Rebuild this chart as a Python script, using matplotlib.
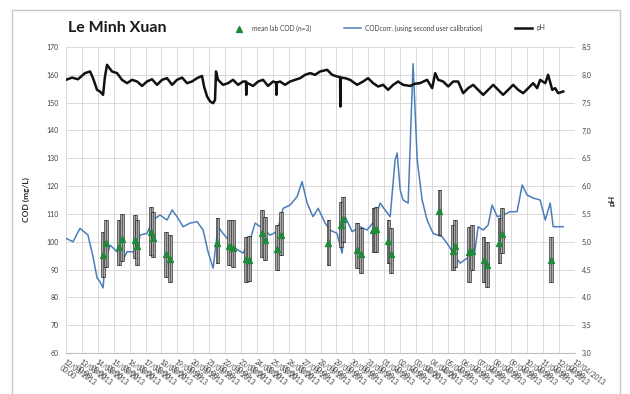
import matplotlib
matplotlib.use("Agg")
import matplotlib.pyplot as plt
from matplotlib.patches import Rectangle

plt.rcParams["font.family"] = ["Lato", "DejaVu Sans"]

# day labels along the x axis (one per grid line)
day_labels = [
    "12/03/2013", "13/03/2013", "14/03/2013", "15/03/2013", "16/03/2013",
    "17/03/2013", "18/03/2013", "19/03/2013", "20/03/2013", "21/03/2013",
    "22/03/2013", "23/03/2013", "24/03/2013", "25/03/2013", "26/03/2013",
    "27/03/2013", "28/03/2013", "29/03/2013", "30/03/2013", "31/03/2013",
    "01/04/2013", "02/04/2013", "03/04/2013", "04/04/2013", "05/04/2013",
    "06/04/2013", "07/04/2013", "08/04/2013", "09/04/2013", "10/04/2013",
    "11/04/2013", "12/04/2013", "13/04/2013",
]

# corrected COD from the probe (days since start, mg/L)
cod_t = [0.0, 0.44, 0.88, 1.38, 1.70, 1.95, 2.14, 2.33, 2.45, 2.77,
         3.21, 3.58, 3.84, 4.21, 4.47, 4.65, 5.09, 5.47, 5.91, 6.35,
         6.67, 6.98, 7.36, 7.80, 8.24, 8.62, 8.93, 9.25, 9.56, 9.87,
         10.31, 10.63, 11.13, 11.57, 11.89, 12.33, 12.83, 13.27, 13.65, 14.09,
         14.53, 14.84, 15.16, 15.53, 15.85, 16.29, 16.60, 17.04, 17.36, 17.55,
         17.99, 18.49, 18.93, 19.43, 19.75, 20.06, 20.38, 20.69, 20.82, 21.01,
         21.19, 21.51, 21.82, 22.08, 22.39, 22.70, 23.08, 23.65, 24.03, 24.47,
         24.78, 25.22, 25.60, 25.91, 26.23, 26.54, 26.79, 27.11, 27.48, 27.92,
         28.36, 28.68, 28.99, 29.37, 29.81, 30.13, 30.44, 30.63, 30.94, 31.26]
cod_val = [101.2, 100.0, 104.8, 102.4, 94.6, 87.0, 85.6, 83.4, 92.3, 98.8,
           96.4, 93.4, 96.4, 96.4, 95.7, 102.4, 103.0, 107.8, 109.6, 107.8,
           111.4, 109.0, 105.4, 106.7, 107.2, 104.2, 96.4, 90.5, 105.4, 103.0,
           100.0, 97.7, 95.9, 100.6, 106.7, 104.9, 102.4, 103.6, 112.0, 113.2,
           116.2, 121.6, 113.9, 109.0, 112.0, 106.7, 104.2, 103.0, 95.9, 109.0,
           103.6, 105.4, 104.2, 107.8, 113.9, 111.4, 109.0, 129.4, 131.9, 118.6,
           115.0, 113.9, 164.0, 129.4, 115.0, 107.8, 103.0, 101.8, 98.8, 94.6,
           92.3, 94.1, 92.3, 105.4, 104.2, 106.0, 113.2, 109.0, 109.6, 110.8,
           110.8, 120.4, 116.8, 115.7, 115.0, 107.8, 113.9, 105.4, 105.4, 105.4]

# lab COD samples: time, mean, max, min (mg/L)
lab_t = [2.31, 2.52, 3.33, 3.54, 4.34, 4.48, 5.33, 5.49, 6.27, 6.54,
         9.52, 10.27, 10.48, 11.32, 11.53, 12.31, 12.52, 13.29, 13.50, 16.50,
         17.28, 17.44, 18.32, 18.53, 19.33, 19.50, 20.27, 20.42, 23.48, 24.32,
         24.47, 25.36, 25.52, 26.25, 26.46, 27.25, 27.42, 30.48]
lab_mean = [95.2, 99.6, 98.2, 101.0, 100.6, 98.5, 103.4, 101.4, 95.5, 93.7,
            99.4, 98.5, 97.8, 93.7, 93.4, 103.0, 100.6, 97.4, 102.4, 99.4,
            106.0, 108.0, 97.2, 95.5, 104.2, 104.4, 100.2, 95.5, 111.2, 96.6,
            98.5, 96.3, 96.6, 93.4, 91.6, 99.6, 102.8, 93.4]
lab_max = [103.6, 107.8, 107.8, 109.9, 109.6, 107.8, 112.6, 110.8, 103.6, 102.4,
           108.4, 107.8, 107.8, 101.8, 102.0, 111.4, 109.0, 106.0, 110.8, 107.8,
           114.4, 116.2, 106.6, 104.8, 112.0, 112.6, 107.8, 104.8, 118.6, 106.0,
           107.8, 105.4, 106.0, 101.8, 100.0, 108.4, 112.0, 101.8]
lab_min = [87.4, 91.0, 91.6, 93.0, 94.0, 91.6, 95.2, 94.6, 87.4, 85.6,
           92.2, 91.6, 91.0, 85.6, 86.0, 94.6, 93.4, 89.8, 95.2, 91.6,
           98.2, 100.0, 90.4, 88.6, 96.4, 96.4, 92.2, 88.6, 102.4, 89.8,
           91.0, 85.6, 89.8, 85.6, 83.9, 92.2, 95.8, 85.6]

# pH probe reading
ph_t = [0.0, 0.38, 0.75, 1.19, 1.51, 1.70, 1.95, 2.14, 2.33, 2.45,
        2.58, 2.89, 3.21, 3.52, 3.84, 4.15, 4.47, 4.78, 5.09, 5.41,
        5.72, 6.04, 6.35, 6.67, 6.98, 7.30, 7.61, 7.92, 8.24, 8.55,
        8.68, 8.87, 9.06, 9.25, 9.37, 9.43, 9.56, 9.87, 10.19, 10.50,
        10.82, 11.13, 11.32, 11.33, 11.35, 11.76, 12.08, 12.39, 12.70, 13.02,
        13.21, 13.23, 13.25, 13.46, 13.77, 14.09, 14.40, 14.72, 15.03, 15.35,
        15.66, 15.97, 16.42, 16.73, 17.04, 17.23, 17.25, 17.27, 17.55, 17.86,
        18.30, 18.68, 18.99, 19.31, 19.62, 19.94, 20.25, 20.57, 20.88, 21.19,
        21.64, 21.95, 22.26, 22.70, 23.02, 23.21, 23.40, 23.71, 24.03, 24.34,
        24.65, 24.97, 25.28, 25.60, 25.91, 26.23, 26.54, 26.86, 27.17, 27.48,
        27.80, 28.11, 28.43, 28.74, 29.06, 29.37, 29.62, 29.81, 30.13, 30.31,
        30.57, 30.75, 30.94, 31.26]
ph_val = [7.91, 7.95, 7.92, 8.03, 8.06, 7.94, 7.73, 7.70, 7.64, 7.97,
          8.18, 8.06, 8.03, 7.91, 7.85, 7.91, 7.88, 7.80, 7.88, 7.92,
          7.82, 7.91, 7.94, 7.82, 7.91, 7.95, 7.85, 7.88, 7.94, 7.98,
          7.79, 7.61, 7.52, 7.49, 7.55, 8.06, 7.91, 7.82, 7.85, 7.91,
          7.82, 7.88, 7.88, 7.64, 7.86, 7.80, 7.88, 7.91, 7.80, 7.88,
          7.86, 7.64, 7.86, 7.88, 7.82, 7.88, 7.91, 7.94, 8.00, 8.03,
          8.00, 8.06, 8.09, 8.00, 7.97, 7.96, 7.43, 7.95, 7.94, 7.91,
          7.82, 7.88, 7.94, 7.85, 7.79, 7.82, 7.73, 7.82, 7.88, 7.82,
          7.80, 7.84, 7.85, 7.91, 7.76, 8.03, 7.91, 7.88, 7.79, 7.88,
          7.88, 7.67, 7.76, 7.82, 7.73, 7.64, 7.73, 7.82, 7.73, 7.64,
          7.73, 7.82, 7.73, 7.67, 7.76, 7.85, 7.76, 7.91, 7.85, 8.00,
          7.73, 7.76, 7.67, 7.70]

fig = plt.figure(figsize=(6.3, 3.94), dpi=100)
ax = fig.add_axes([66 / 630, 1 - 353 / 394, 509 / 630, 306 / 394])
ax2 = ax.twinx()

# thin frame around the whole chart area
fig.patches.append(Rectangle((12 / 630, -0.05), 608 / 630, 1.05 - 10 / 394,
                             transform=fig.transFigure, fill=False,
                             edgecolor="#c8c8c8", linewidth=1.0))

# lab samples: grey range bar with whisker caps, green triangle at the mean
heights = [hi - lo for hi, lo in zip(lab_max, lab_min)]
ax.bar(lab_t, heights, bottom=lab_min, width=0.24, color="#a8a8a8",
       edgecolor="#3a3a3a", linewidth=0.5, zorder=3)
ax.vlines(lab_t, lab_min, lab_max, color="#303030", linewidth=0.4, zorder=3)
ax.hlines(lab_max, [t - 0.07 for t in lab_t], [t + 0.07 for t in lab_t],
          color="#303030", linewidth=0.6, zorder=3)
ax.hlines(lab_min, [t - 0.07 for t in lab_t], [t + 0.07 for t in lab_t],
          color="#303030", linewidth=0.6, zorder=3)

cod_line, = ax.plot(cod_t, cod_val, color="#4a7ebb", linewidth=1.1, zorder=2,
                    label="CODcorr. (using second user calibration)")
lab_pts = ax.scatter(lab_t, lab_mean, marker="^", s=18, color="#1f8a3a",
                     zorder=4, label="mean lab COD (n=3)")
ph_line, = ax2.plot(ph_t, ph_val, color="#111111", linewidth=1.8, label="pH")

ax.set_xlim(0, len(day_labels) - 1)
ax.set_ylim(60, 170)
ax.set_yticks(range(60, 171, 10))
ax2.set_ylim(3.0, 8.5)
ph_ticks = [3.0 + 0.5 * i for i in range(12)]
ax2.set_yticks(ph_ticks)
ax2.set_yticklabels([f"{v:.1f}".replace(".", ",") for v in ph_ticks])

ax.set_xticks(range(len(day_labels)))
ax.set_xticklabels([f"{d}\n00:00" for d in day_labels], rotation=-36,
                   ha="left", va="top", rotation_mode="anchor", fontsize=4.8,
                   color="#404040", linespacing=1.0)

ax.grid(True, color="#d9d9d9", linewidth=0.7)
ax.set_axisbelow(True)
for a in (ax, ax2):
    a.tick_params(length=0, labelsize=5, colors="#404040", pad=5)
    for s in a.spines.values():
        s.set_visible(False)
ax.spines["bottom"].set_visible(True)
ax.spines["bottom"].set_color("#bfbfbf")
ax.tick_params(axis="x", pad=4)

ax.set_ylabel("COD (mg/L)", fontsize=6, fontweight="bold", color="#262626",
              labelpad=12)
ax2.set_ylabel("pH", fontsize=6, fontweight="bold", color="#262626",
               labelpad=12)

fig.text(68 / 630, 1 - 28 / 394, "Le Minh Xuan", fontsize=11.5,
         fontweight="bold", color="#1a1a1a", va="center")

fig.legend(handles=[lab_pts, cod_line, ph_line], loc="center",
           bbox_to_anchor=(388 / 630, 1 - 28 / 394), ncol=3, frameon=False,
           fontsize=4.8, handlelength=2.5, columnspacing=5.0,
           handletextpad=0.6, labelcolor="#404040")

fig.savefig("out.png", dpi=100)
